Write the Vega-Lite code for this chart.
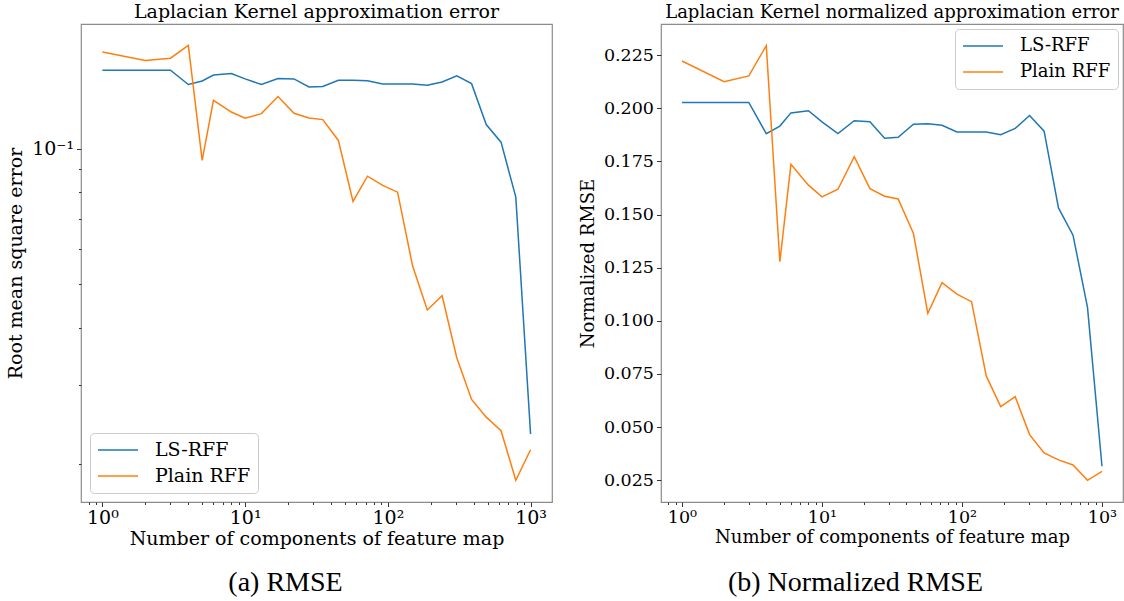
{
  "$schema": "https://vega.github.io/schema/vega-lite/v6.json",
  "background": "white",
  "padding": {"left": 6, "top": 2, "right": 0, "bottom": 0},
  "spacing": 25,
  "resolve": {"legend": {"color": "independent"}, "scale": {"color": "independent"}},
  "config": {
    "view": {"stroke": "#8c8c8c", "strokeWidth": 1.2},
    "font": "DejaVu Serif",
    "title": {"font": "DejaVu Serif", "fontWeight": "normal", "color": "#000", "anchor": "middle"},
    "axis": {
      "grid": false, "domain": false,
      "tickColor": "#333", "tickWidth": 1,
      "labelFont": "DejaVu Serif", "labelColor": "#000",
      "titleFont": "DejaVu Serif", "titleFontWeight": "normal", "titleColor": "#000"
    },
    "legend": {
      "title": null,
      "symbolType": "stroke", "symbolSize": 1600, "symbolStrokeWidth": 1.5,
      "clipHeight": 20,
      "labelFont": "DejaVu Serif", "labelColor": "#000",
      "labelOffset": 16, "rowPadding": 6, "padding": 7,
      "strokeColor": "#cccccc", "fillColor": "rgba(255,255,255,0.8)", "cornerRadius": 4
    }
  },
  "data": {
    "values": [
      {"n": 1, "series": "LS-RFF", "rmse": 0.1493, "nrmse": 0.2027},
      {"n": 2, "series": "LS-RFF", "rmse": 0.1493, "nrmse": 0.2027},
      {"n": 3, "series": "LS-RFF", "rmse": 0.1493, "nrmse": 0.2027},
      {"n": 4, "series": "LS-RFF", "rmse": 0.1388, "nrmse": 0.1880},
      {"n": 5, "series": "LS-RFF", "rmse": 0.1413, "nrmse": 0.1916},
      {"n": 6, "series": "LS-RFF", "rmse": 0.1457, "nrmse": 0.1978},
      {"n": 8, "series": "LS-RFF", "rmse": 0.1468, "nrmse": 0.1988},
      {"n": 10, "series": "LS-RFF", "rmse": 0.1428, "nrmse": 0.1936},
      {"n": 13, "series": "LS-RFF", "rmse": 0.1388, "nrmse": 0.1881},
      {"n": 17, "series": "LS-RFF", "rmse": 0.1431, "nrmse": 0.1941},
      {"n": 22, "series": "LS-RFF", "rmse": 0.1428, "nrmse": 0.1936},
      {"n": 28, "series": "LS-RFF", "rmse": 0.1371, "nrmse": 0.1859},
      {"n": 35, "series": "LS-RFF", "rmse": 0.1374, "nrmse": 0.1863},
      {"n": 45, "series": "LS-RFF", "rmse": 0.1418, "nrmse": 0.1925},
      {"n": 57, "series": "LS-RFF", "rmse": 0.1418, "nrmse": 0.1927},
      {"n": 72, "series": "LS-RFF", "rmse": 0.1415, "nrmse": 0.1920},
      {"n": 92, "series": "LS-RFF", "rmse": 0.1392, "nrmse": 0.1888},
      {"n": 117, "series": "LS-RFF", "rmse": 0.1392, "nrmse": 0.1888},
      {"n": 149, "series": "LS-RFF", "rmse": 0.1392, "nrmse": 0.1888},
      {"n": 189, "series": "LS-RFF", "rmse": 0.1382, "nrmse": 0.1875},
      {"n": 240, "series": "LS-RFF", "rmse": 0.1406, "nrmse": 0.1905},
      {"n": 304, "series": "LS-RFF", "rmse": 0.1450, "nrmse": 0.1966},
      {"n": 386, "series": "LS-RFF", "rmse": 0.1394, "nrmse": 0.1892},
      {"n": 489, "series": "LS-RFF", "rmse": 0.1131, "nrmse": 0.1531},
      {"n": 621, "series": "LS-RFF", "rmse": 0.1034, "nrmse": 0.1403},
      {"n": 788, "series": "LS-RFF", "rmse": 0.0781, "nrmse": 0.1063},
      {"n": 1000, "series": "LS-RFF", "rmse": 0.0233, "nrmse": 0.0316},
      {"n": 1, "series": "Plain RFF", "rmse": 0.1639, "nrmse": 0.2222},
      {"n": 2, "series": "Plain RFF", "rmse": 0.1569, "nrmse": 0.2125},
      {"n": 3, "series": "Plain RFF", "rmse": 0.1587, "nrmse": 0.2152},
      {"n": 4, "series": "Plain RFF", "rmse": 0.1694, "nrmse": 0.2294},
      {"n": 5, "series": "Plain RFF", "rmse": 0.0942, "nrmse": 0.1278},
      {"n": 6, "series": "Plain RFF", "rmse": 0.1280, "nrmse": 0.1736},
      {"n": 8, "series": "Plain RFF", "rmse": 0.1206, "nrmse": 0.1638},
      {"n": 10, "series": "Plain RFF", "rmse": 0.1168, "nrmse": 0.1583},
      {"n": 13, "series": "Plain RFF", "rmse": 0.1196, "nrmse": 0.1619},
      {"n": 17, "series": "Plain RFF", "rmse": 0.1305, "nrmse": 0.1772},
      {"n": 22, "series": "Plain RFF", "rmse": 0.1198, "nrmse": 0.1622},
      {"n": 28, "series": "Plain RFF", "rmse": 0.1170, "nrmse": 0.1586},
      {"n": 35, "series": "Plain RFF", "rmse": 0.1160, "nrmse": 0.1573},
      {"n": 45, "series": "Plain RFF", "rmse": 0.1043, "nrmse": 0.1411},
      {"n": 57, "series": "Plain RFF", "rmse": 0.0764, "nrmse": 0.1035},
      {"n": 72, "series": "Plain RFF", "rmse": 0.0869, "nrmse": 0.1180},
      {"n": 92, "series": "Plain RFF", "rmse": 0.0829, "nrmse": 0.1126},
      {"n": 117, "series": "Plain RFF", "rmse": 0.0801, "nrmse": 0.1090},
      {"n": 149, "series": "Plain RFF", "rmse": 0.0550, "nrmse": 0.0741},
      {"n": 189, "series": "Plain RFF", "rmse": 0.0439, "nrmse": 0.0597},
      {"n": 240, "series": "Plain RFF", "rmse": 0.0472, "nrmse": 0.0643},
      {"n": 304, "series": "Plain RFF", "rmse": 0.0344, "nrmse": 0.0465},
      {"n": 386, "series": "Plain RFF", "rmse": 0.0278, "nrmse": 0.0379},
      {"n": 489, "series": "Plain RFF", "rmse": 0.0254, "nrmse": 0.0346},
      {"n": 621, "series": "Plain RFF", "rmse": 0.0237, "nrmse": 0.0322},
      {"n": 788, "series": "Plain RFF", "rmse": 0.0184, "nrmse": 0.0250},
      {"n": 1000, "series": "Plain RFF", "rmse": 0.0215, "nrmse": 0.0292}
    ]
  },
  "hconcat": [
    {
      "title": {"text": "Laplacian Kernel approximation error", "fontSize": 19, "offset": 2},
      "width": 471,
      "height": 478,
      "encoding": {
        "y": {
          "field": "rmse", "type": "quantitative",
          "scale": {"type": "log", "domain": [0.01647, 0.189], "nice": false},
          "axis": {
            "title": "Root mean square error",
            "titleFontSize": 19, "titlePadding": 6,
            "labelFontSize": 19, "labelPadding": 3,
            "values": [0.02, 0.03, 0.04, 0.05, 0.06, 0.07, 0.08, 0.09, 0.1],
            "labelExpr": "datum.value == 0.1 ? '10⁻¹' : ''",
            "tickSize": {"condition": {"test": "datum.value == 0.1", "value": 4.5}, "value": 2.5}
          }
        }
      },
      "layer": [
        {
          "mark": {"type": "line", "strokeWidth": 1.5, "clip": true},
          "encoding": {
            "x": {
              "field": "n", "type": "quantitative",
              "scale": {"type": "log", "domain": [0.708, 1413], "nice": false},
              "axis": {
                "title": "Number of components of feature map",
                "titleFontSize": 19, "titlePadding": 2,
                "labelFontSize": 19, "labelPadding": 2,
                "values": [0.8, 0.9, 1, 2, 3, 4, 5, 6, 7, 8, 9, 10, 20, 30, 40, 50, 60, 70, 80, 90, 100, 200, 300, 400, 500, 600, 700, 800, 900, 1000],
                "labelExpr": "datum.value == 1 ? '10⁰' : datum.value == 10 ? '10¹' : datum.value == 100 ? '10²' : datum.value == 1000 ? '10³' : ''",
                "tickSize": {"condition": {"test": "indexof([1, 10, 100, 1000], datum.value) >= 0", "value": 4.5}, "value": 2.5}
              }
            },
            "color": {
              "field": "series", "type": "nominal",
              "scale": {"domain": ["LS-RFF", "Plain RFF"], "range": ["#1f77b4", "#ff7f0e"]},
              "legend": {"orient": "bottom-left", "offset": 9, "labelFontSize": 19}
            }
          }
        },
        {
          "mark": {"type": "line", "opacity": 0},
          "encoding": {
            "x": {
              "field": "n", "type": "quantitative",
              "axis": {
                "orient": "bottom", "offset": 66,
                "domain": false, "ticks": false, "labels": false,
                "title": "(a) RMSE", "titleFont": "Liberation Serif", "titleFontSize": 28,
                "titlePadding": 0, "titleX": 204, "titleAlign": "center"
              }
            }
          }
        }
      ],
      "resolve": {"axis": {"x": "independent"}}
    },
    {
      "title": {"text": "Laplacian Kernel normalized approximation error", "fontSize": 18, "offset": 2},
      "width": 462,
      "height": 478,
      "encoding": {
        "y": {
          "field": "nrmse", "type": "quantitative",
          "scale": {"domain": [0.0148, 0.2396], "nice": false, "zero": false},
          "axis": {
            "title": "Normalized RMSE",
            "titleFontSize": 18, "titlePadding": 6,
            "labelFontSize": 17.5, "labelPadding": 3, "tickSize": 4.5,
            "values": [0.025, 0.05, 0.075, 0.1, 0.125, 0.15, 0.175, 0.2, 0.225],
            "format": ".3f"
          }
        }
      },
      "layer": [
        {
          "mark": {"type": "line", "strokeWidth": 1.5, "clip": true},
          "encoding": {
            "x": {
              "field": "n", "type": "quantitative",
              "scale": {"type": "log", "domain": [0.708, 1413], "nice": false},
              "axis": {
                "title": "Number of components of feature map",
                "titleFontSize": 18, "titlePadding": 2,
                "labelFontSize": 17.5, "labelPadding": 2,
                "values": [0.8, 0.9, 1, 2, 3, 4, 5, 6, 7, 8, 9, 10, 20, 30, 40, 50, 60, 70, 80, 90, 100, 200, 300, 400, 500, 600, 700, 800, 900, 1000],
                "labelExpr": "datum.value == 1 ? '10⁰' : datum.value == 10 ? '10¹' : datum.value == 100 ? '10²' : datum.value == 1000 ? '10³' : ''",
                "tickSize": {"condition": {"test": "indexof([1, 10, 100, 1000], datum.value) >= 0", "value": 4.5}, "value": 2.5}
              }
            },
            "color": {
              "field": "series", "type": "nominal",
              "scale": {"domain": ["LS-RFF", "Plain RFF"], "range": ["#1f77b4", "#ff7f0e"]},
              "legend": {"orient": "top-right", "offset": 5, "labelFontSize": 18}
            }
          }
        },
        {
          "mark": {"type": "line", "opacity": 0},
          "encoding": {
            "x": {
              "field": "n", "type": "quantitative",
              "axis": {
                "orient": "bottom", "offset": 66,
                "domain": false, "ticks": false, "labels": false,
                "title": "(b) Normalized RMSE", "titleFont": "Liberation Serif", "titleFontSize": 28,
                "titlePadding": 0, "titleX": 194, "titleAlign": "center"
              }
            }
          }
        }
      ],
      "resolve": {"axis": {"x": "independent"}}
    }
  ]
}
